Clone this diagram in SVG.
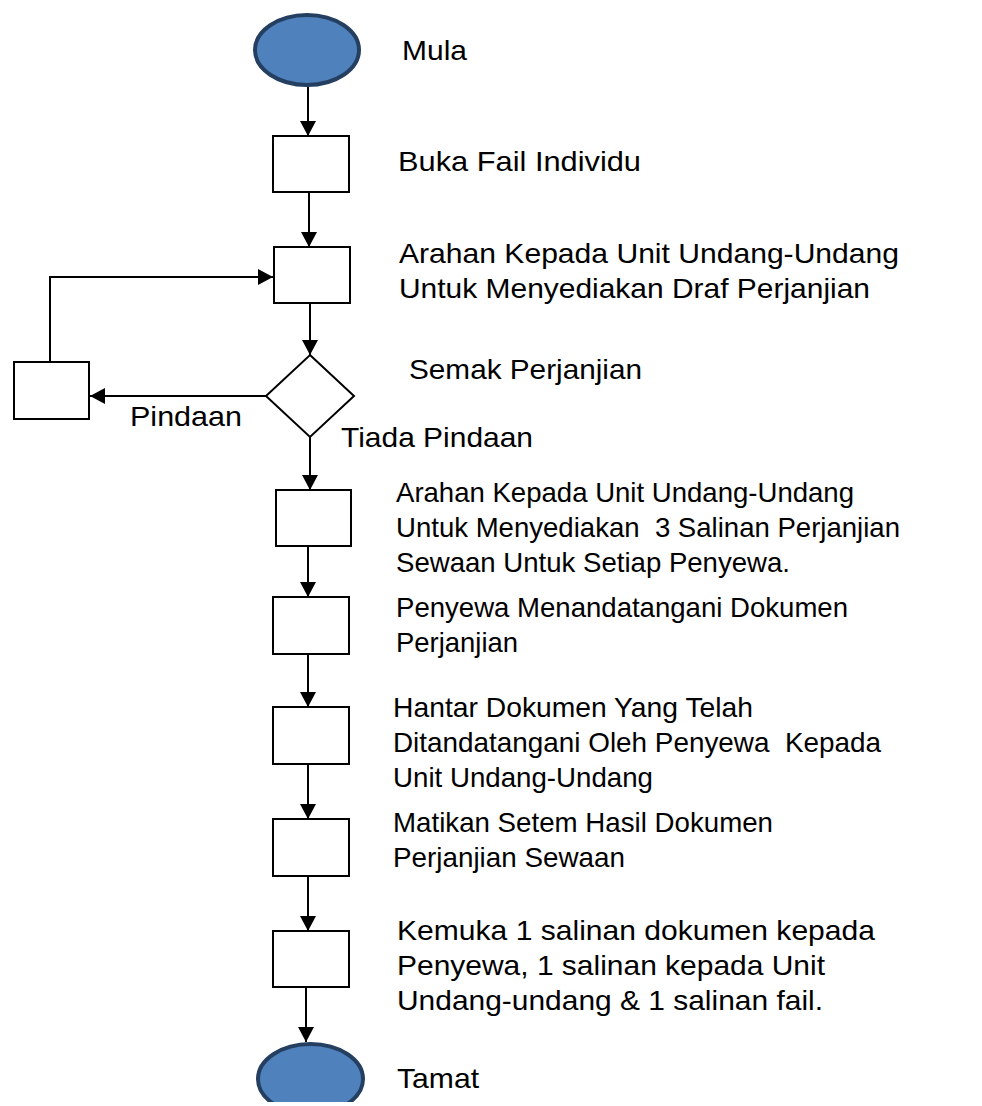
<svg xmlns="http://www.w3.org/2000/svg" width="982" height="1106" viewBox="0 0 982 1106">
<style>
.box{fill:#fff;stroke:#000;stroke-width:2}
.term{fill:#4F81BD;stroke:#243F60;stroke-width:4}
.conn{fill:none;stroke:#000;stroke-width:2}
text{font-family:"Liberation Sans",Arial,sans-serif;font-size:28px;fill:#000}
</style>
<defs>
<marker id="ah" markerUnits="userSpaceOnUse" markerWidth="16" markerHeight="16" refX="15" refY="8" orient="auto">
<path d="M0,0 L15,8 L0,16 Z" fill="#000"/>
</marker>
<clipPath id="pg"><rect x="0" y="0" width="982" height="1102"/></clipPath>
</defs>
<rect width="982" height="1106" fill="#fff"/>
<g id="connectors">
<line class="conn" x1="308" y1="87" x2="308" y2="136" marker-end="url(#ah)"/>
<line class="conn" x1="309" y1="192" x2="309" y2="247" marker-end="url(#ah)"/>
<line class="conn" x1="310" y1="303" x2="310" y2="355" marker-end="url(#ah)"/>
<line class="conn" x1="266" y1="396" x2="90" y2="396" marker-end="url(#ah)"/>
<polyline class="conn" points="50,362 50,277 273,277" marker-end="url(#ah)"/>
<line class="conn" x1="310" y1="437" x2="310" y2="490" marker-end="url(#ah)"/>
<line class="conn" x1="308" y1="546" x2="308" y2="597" marker-end="url(#ah)"/>
<line class="conn" x1="308" y1="654" x2="308" y2="707" marker-end="url(#ah)"/>
<line class="conn" x1="308" y1="764" x2="308" y2="819" marker-end="url(#ah)"/>
<line class="conn" x1="308" y1="876" x2="308" y2="931" marker-end="url(#ah)"/>
<line class="conn" x1="306" y1="987" x2="306" y2="1042" marker-end="url(#ah)"/>
<text x="130" y="426" textLength="112" lengthAdjust="spacingAndGlyphs">Pindaan</text>
<text x="341" y="447" textLength="192" lengthAdjust="spacingAndGlyphs">Tiada Pindaan</text>
</g>
<g id="start">
<ellipse class="term" cx="307" cy="50" rx="52" ry="35"/>
<text x="402" y="60" textLength="65" lengthAdjust="spacingAndGlyphs">Mula</text>
</g>
<g id="n1">
<rect class="box" x="273" y="136" width="76" height="56"/>
<text x="398" y="171" textLength="243" lengthAdjust="spacingAndGlyphs">Buka Fail Individu</text>
</g>
<g id="n2">
<rect class="box" x="274" y="247" width="76" height="56"/>
<text x="399" y="263" textLength="500" lengthAdjust="spacingAndGlyphs">Arahan Kepada Unit Undang-Undang</text>
<text x="399" y="298" textLength="471" lengthAdjust="spacingAndGlyphs">Untuk Menyediakan Draf Perjanjian</text>
</g>
<g id="decision">
<polygon class="box" points="310,355 354,396 310,437 266,396"/>
<text x="409" y="379" textLength="233" lengthAdjust="spacingAndGlyphs">Semak Perjanjian</text>
</g>
<g id="amend">
<rect class="box" x="14" y="362" width="75" height="57"/>
</g>
<g id="n3">
<rect class="box" x="276" y="490" width="75" height="56"/>
<text x="396" y="502" textLength="458" lengthAdjust="spacingAndGlyphs">Arahan Kepada Unit Undang-Undang</text>
<text x="396" y="537" textLength="504" lengthAdjust="spacingAndGlyphs" xml:space="preserve">Untuk Menyediakan  3 Salinan Perjanjian</text>
<text x="396" y="572" textLength="394" lengthAdjust="spacingAndGlyphs">Sewaan Untuk Setiap Penyewa.</text>
</g>
<g id="n4">
<rect class="box" x="273" y="597" width="76" height="57"/>
<text x="396" y="617" textLength="452" lengthAdjust="spacingAndGlyphs">Penyewa Menandatangani Dokumen</text>
<text x="396" y="652" textLength="122" lengthAdjust="spacingAndGlyphs">Perjanjian</text>
</g>
<g id="n5">
<rect class="box" x="273" y="707" width="76" height="57"/>
<text x="393" y="717" textLength="360" lengthAdjust="spacingAndGlyphs">Hantar Dokumen Yang Telah</text>
<text x="393" y="752" textLength="488" lengthAdjust="spacingAndGlyphs" xml:space="preserve">Ditandatangani Oleh Penyewa  Kepada</text>
<text x="393" y="787" textLength="260" lengthAdjust="spacingAndGlyphs">Unit Undang-Undang</text>
</g>
<g id="n6">
<rect class="box" x="273" y="819" width="76" height="57"/>
<text x="393" y="832" textLength="380" lengthAdjust="spacingAndGlyphs">Matikan Setem Hasil Dokumen</text>
<text x="393" y="867" textLength="232" lengthAdjust="spacingAndGlyphs">Perjanjian Sewaan</text>
</g>
<g id="n7">
<rect class="box" x="273" y="931" width="76" height="56"/>
<text x="397" y="940" textLength="478" lengthAdjust="spacingAndGlyphs">Kemuka 1 salinan dokumen kepada</text>
<text x="397" y="975" textLength="428" lengthAdjust="spacingAndGlyphs">Penyewa, 1 salinan kepada Unit</text>
<text x="397" y="1010" textLength="426" lengthAdjust="spacingAndGlyphs">Undang-undang &amp; 1 salinan fail.</text>
</g>
<g id="end">
<ellipse class="term" cx="310.5" cy="1079" rx="52.5" ry="35" clip-path="url(#pg)"/>
<text x="397" y="1088" textLength="82" lengthAdjust="spacingAndGlyphs">Tamat</text>
</g>
</svg>
